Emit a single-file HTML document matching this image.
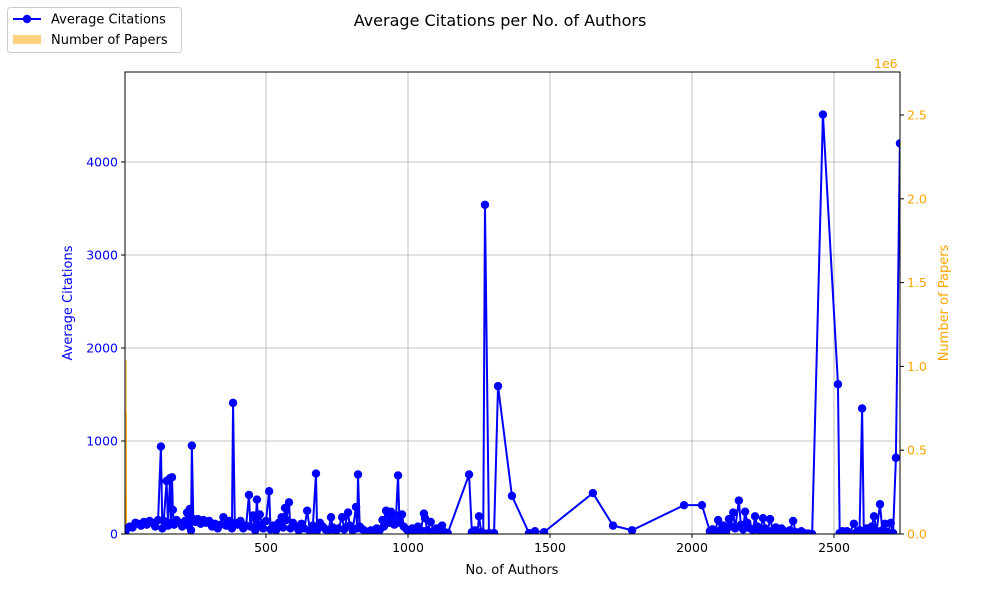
<!DOCTYPE html>
<html><head><meta charset="utf-8"><style>
body{margin:0;background:#fff;font-family:"Liberation Sans",sans-serif}
svg text{font-family:"DejaVu Sans","Liberation Sans",sans-serif}
</style></head><body>
<svg id="c" width="1000" height="600" xmlns="http://www.w3.org/2000/svg"></svg>
<script>
const authors=[1,5,10,20,30,40,50,60,70,80,90,100,110,120,130,135,140,150,155,162,166,169,172,176,185,195,205,215,222,228,232,236,239,244,250,260,270,280,290,300,310,320,330,340,350,360,370,380,384,390,400,410,420,430,440,445,455,462,468,472,478,490,500,511,516,525,535,545,555,560,567,572,581,586,595,605,615,625,635,645,655,665,676,680,690,700,710,720,729,735,745,755,768,775,789,795,805,817,821,824,830,840,850,860,870,880,890,900,910,915,923,930,935,940,945,952,958,965,970,979,985,995,1005,1015,1025,1035,1045,1056,1060,1068,1080,1090,1100,1110,1120,1130,1140,1215,1225,1235,1245,1250,1258,1265,1271,1285,1303,1317,1366,1426,1447,1479,1651,1722,1789,1972,2035,2063,2072,2080,2092,2100,2110,2120,2130,2137,2145,2152,2165,2172,2180,2187,2195,2205,2215,2222,2230,2240,2250,2258,2266,2275,2285,2295,2305,2315,2325,2335,2345,2356,2365,2375,2385,2395,2410,2423,2461,2514,2520,2530,2546,2555,2570,2580,2590,2599,2605,2615,2625,2633,2641,2650,2662,2670,2680,2690,2700,2708,2718,2732];
const citations=[5,30,60,80,70,120,110,90,130,100,140,120,80,150,940,60,140,570,90,600,120,610,260,100,150,120,80,140,230,90,270,40,950,160,130,160,110,150,120,140,80,110,60,100,180,90,140,60,1410,120,100,140,60,90,420,80,200,40,370,100,210,60,140,460,50,90,40,120,180,70,280,150,340,60,120,80,40,110,60,250,30,90,650,40,120,80,50,40,180,70,30,60,180,50,230,90,40,290,60,640,80,50,30,20,40,20,60,40,150,80,250,200,120,240,170,100,200,630,120,210,80,50,30,60,20,80,40,220,170,40,130,30,60,40,90,20,10,640,20,40,10,190,20,10,3540,10,10,1590,410,10,30,20,440,90,40,310,310,30,50,20,150,40,90,30,160,80,230,60,360,100,50,240,120,60,40,190,80,30,170,60,20,160,40,70,20,60,30,10,40,140,20,10,30,10,5,0,4510,1610,10,30,30,10,110,20,40,1350,20,60,10,80,190,30,320,40,110,20,120,10,820,4200];
const barAuthors=[1,2,3,4,5,6];
const barPapers=[730000,1040000,230000,100000,40000,15000];
const xTicks=[500,1000,1500,2000,2500];
const yTicks=[0,1000,2000,3000,4000];
const y2Ticks=[0,0.5,1.0,1.5,2.0,2.5];
const y2TickLabels=["0.0","0.5","1.0","1.5","2.0","2.5"];

const L=125,R=900,T=72,B=534;
const X=v=>124+(v)*0.284;
const Y=v=>B-v*0.093;
const Y2=v=>B-v*167.6/1e6;
const svg=document.getElementById('c');
const NS='http://www.w3.org/2000/svg';
function el(tag,attrs,parent){const e=document.createElementNS(NS,tag);for(const k in attrs)e.setAttribute(k,attrs[k]);(parent||svg).appendChild(e);return e;}
function txt(s,attrs,parent){const e=el('text',attrs,parent);e.textContent=s;return e;}

const grid=el('g',{});


xTicks.forEach(v=>{el('line',{x1:X(v),x2:X(v),y1:T,y2:B,stroke:'#b0b0b0','stroke-width':0.8},grid);});
yTicks.forEach(v=>{el('line',{x1:L,x2:R,y1:Y(v),y2:Y(v),stroke:'#b0b0b0','stroke-width':0.8},grid);});

const bars=el('g',{});


barAuthors.forEach((a,i)=>{const r=el('rect',{x:Math.max(L,X(a)-0.4),y:Y2(barPapers[i]),width:2,height:B-Y2(barPapers[i]),fill:'orange','fill-opacity':0.5},bars);

});

const clip=el('clipPath',{id:'pc'});el('rect',{x:L,y:T,width:R-L,height:B-T},clip);
const ser=el('g',{'clip-path':'url(#pc)'});


el('polyline',{points:authors.map((a,i)=>X(a)+','+Y(citations[i])).join(' '),fill:'none',stroke:'blue','stroke-width':2,'stroke-linejoin':'round'},ser);
authors.forEach((a,i)=>{const c=el('circle',{cx:X(a),cy:Y(citations[i]),r:4.2,fill:'blue'},ser);

});

el('rect',{x:L,y:T,width:R-L,height:B-T,fill:'none',stroke:'#000','stroke-width':1});

xTicks.forEach(v=>{el('line',{x1:X(v),x2:X(v),y1:B,y2:B+4,stroke:'#000'});
const t=txt(String(v),{x:X(v),y:B+18,'text-anchor':'middle','font-size':12.5});

});
yTicks.forEach(v=>{el('line',{x1:L-4,x2:L,y1:Y(v),y2:Y(v),stroke:'#000'});
const t=txt(String(v),{x:L-7,y:Y(v)+4.5,'text-anchor':'end','font-size':12.5,fill:'blue'});

});
y2Ticks.forEach((v,i)=>{el('line',{x1:R,x2:R+4,y1:Y2(v*1e6),y2:Y2(v*1e6),stroke:'#000'});
const t=txt(y2TickLabels[i],{x:R+7,y:Y2(v*1e6)+4.5,'font-size':12.5,fill:'orange'});

});
</script>
<svg style="position:absolute;left:0;top:0" width="1000" height="600" xmlns="http://www.w3.org/2000/svg">
<text x="500" y="26" text-anchor="middle" font-size="16" font-family="DejaVu Sans, Liberation Sans, sans-serif">Average Citations per No. of Authors</text>
<text x="512" y="574" text-anchor="middle" font-size="13" font-family="DejaVu Sans, Liberation Sans, sans-serif">No. of Authors</text>
<text transform="translate(72,303) rotate(-90)" text-anchor="middle" font-size="13" fill="blue" font-family="DejaVu Sans, Liberation Sans, sans-serif">Average Citations</text>
<text transform="translate(948,303) rotate(-90)" text-anchor="middle" font-size="13" fill="orange" font-family="DejaVu Sans, Liberation Sans, sans-serif">Number of Papers</text>
<text x="874" y="68" font-size="12.5" fill="orange" font-family="DejaVu Sans, Liberation Sans, sans-serif">1e6</text>
<g>
<rect x="7.5" y="7.5" width="174" height="45" rx="3" fill="#fff" fill-opacity="0.8" stroke="#ccc"/>
<line x1="13" x2="41" y1="19" y2="19" stroke="blue" stroke-width="2"/>
<circle cx="27" cy="19" r="4.2" fill="blue"/>
<text x="51" y="23.5" font-size="13" font-family="DejaVu Sans, Liberation Sans, sans-serif">Average Citations</text>
<rect x="13" y="35" width="28" height="9" fill="orange" fill-opacity="0.5"/>
<text x="51" y="44" font-size="13" font-family="DejaVu Sans, Liberation Sans, sans-serif">Number of Papers</text>
</g>
</svg>
</body></html>
